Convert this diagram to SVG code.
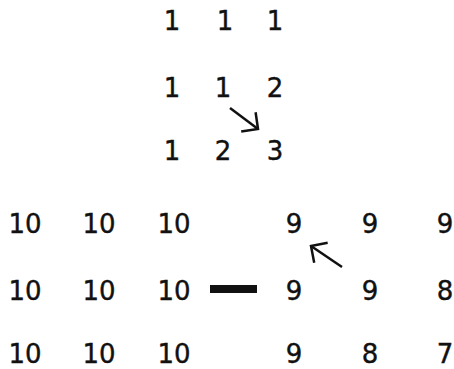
<svg xmlns="http://www.w3.org/2000/svg" width="454" height="369" viewBox="0 0 454 369">
<defs>
<style>
text{font-family:"DejaVu Sans","Liberation Sans",sans-serif;font-size:26px;fill:#111;stroke:#111;stroke-width:0.4;text-anchor:middle}
.arr{stroke:#111;stroke-width:2.5;fill:none}
</style>
<marker id="ah" markerUnits="userSpaceOnUse" markerWidth="30" markerHeight="30" refX="0" refY="0" viewBox="-15 -15 30 30" orient="auto" overflow="visible">
<path d="M-12,-12 L0,0 L-12,12" fill="none" stroke="#111" stroke-width="2.5"/>
</marker>
</defs>
<rect width="454" height="369" fill="#fff"/>
<g id="grid-top">
<text x="172" y="30">1</text><text x="225" y="30">1</text><text x="275" y="30">1</text>
<text x="172" y="97">1</text><text x="223" y="97">1</text><text x="275" y="97">2</text>
<text x="172" y="160">1</text><text x="223" y="160">2</text><text x="275" y="160">3</text>
</g>
<g id="grid-left">
<text x="25" y="233">10</text><text x="99" y="233">10</text><text x="174" y="233">10</text>
<text x="25" y="300">10</text><text x="99" y="300">10</text><text x="174" y="300">10</text>
<text x="25" y="363">10</text><text x="99" y="363">10</text><text x="174" y="363">10</text>
</g>
<g id="grid-right">
<text x="294" y="233">9</text><text x="370" y="233">9</text><text x="445" y="233">9</text>
<text x="294" y="300">9</text><text x="370" y="300">9</text><text x="445" y="300">8</text>
<text x="294" y="363">9</text><text x="370" y="363">8</text><text x="445" y="363">7</text>
</g>
<g id="minus"><rect x="210" y="285" width="47" height="8" fill="#111"/></g>
<g id="connectors">
<line class="arr" x1="230" y1="108" x2="258" y2="129" marker-end="url(#ah)"/>
<line class="arr" x1="342" y1="267" x2="311" y2="246" marker-end="url(#ah)"/>
</g>
</svg>
